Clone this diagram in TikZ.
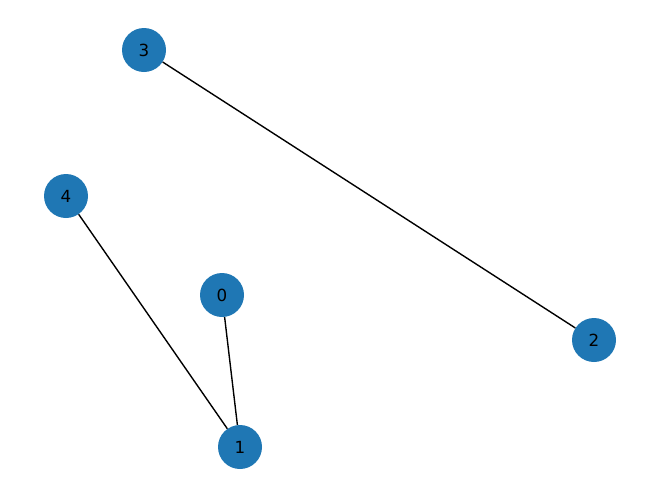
\documentclass[tikz,border=0pt]{standalone}
\usepackage{fontspec}
\setmainfont{DejaVu Sans}
\definecolor{nxblue}{HTML}{1F77B4}
\begin{document}
\begin{tikzpicture}[x=1pt,y=-1pt,
  vtx/.style={circle,fill=nxblue,minimum size=44pt,inner sep=0pt,font=\fontsize{16.7}{20}\selectfont},
  edge/.style={draw=black,line width=1.39pt}]
\useasboundingbox (0,0) rectangle (660,499);
\node[vtx] (n3) at (144,50) {3};
\node[vtx] (n4) at (66,196) {4};
\node[vtx] (n0) at (222,295) {0};
\node[vtx] (n2) at (594,340) {2};
\node[vtx] (n1) at (240,447) {1};
\begin{scope}[on background layer/.try]
\end{scope}
\draw[edge] (n3) -- (n2);
\draw[edge] (n4) -- (n1);
\draw[edge] (n0) -- (n1);
\end{tikzpicture}
\end{document}
